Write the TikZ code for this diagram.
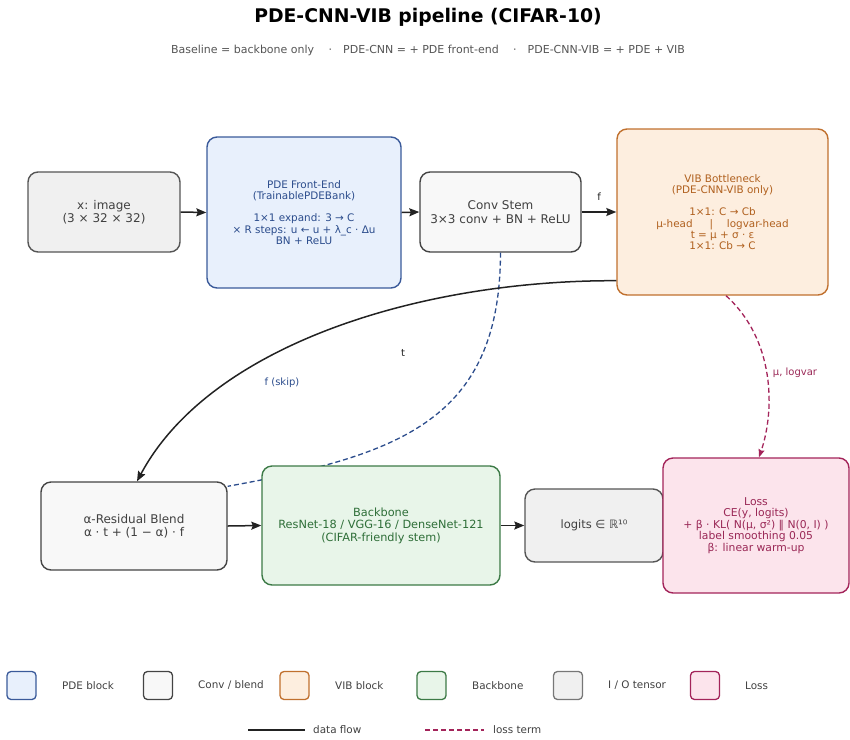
\documentclass[tikz,border=0pt]{standalone}
\usepackage{fontspec}
\setmainfont{DejaVu Sans}
\usetikzlibrary{arrows.meta,calc}
\definecolor{ioF}{HTML}{F0F0F0}
\definecolor{ioD}{HTML}{555555}
\definecolor{cvF}{HTML}{F8F8F8}
\definecolor{cvD}{HTML}{444444}
\definecolor{grT}{HTML}{404040}
\definecolor{pdeF}{HTML}{E8F0FC}
\definecolor{pdeD}{HTML}{3A5A9A}
\definecolor{pdeT}{HTML}{2B4C8C}
\definecolor{vibF}{HTML}{FDEEDF}
\definecolor{vibD}{HTML}{C0702E}
\definecolor{vibT}{HTML}{B0601E}
\definecolor{bbF}{HTML}{E8F5E9}
\definecolor{bbD}{HTML}{3C7A46}
\definecolor{bbT}{HTML}{2E6E38}
\definecolor{lsF}{HTML}{FCE4EC}
\definecolor{lsD}{HTML}{A3245A}
\definecolor{lsT}{HTML}{9A2856}
\definecolor{arr}{HTML}{222222}
\definecolor{subT}{HTML}{555555}
\begin{document}
\begin{tikzpicture}[x=1pt,y=-1pt,
  blk/.style={draw, rounded corners=10pt, line width=1.4pt, align=center, inner sep=0pt},
  big/.style={font=\fontsize{12}{13.5}\selectfont},
  small/.style={font=\fontsize{10.4}{11.3}\selectfont},
  iobox/.style={blk, big, fill=ioF, draw=ioD, text=grT},
  cvbox/.style={blk, big, fill=cvF, draw=cvD, text=grT},
  pdebox/.style={blk, small, fill=pdeF, draw=pdeD, text=pdeT},
  vibbox/.style={blk, small, fill=vibF, draw=vibD, text=vibT},
  bbbox/.style={blk, font=\fontsize{11.3}{12.6}\selectfont, fill=bbF, draw=bbD, text=bbT},
  lsbox/.style={blk, font=\fontsize{10.8}{11.5}\selectfont, fill=lsF, draw=lsD, text=lsT},
  flow/.style={draw=arr, line width=1.5pt, -{Stealth[length=10pt,width=8pt,inset=1.5pt]}},
  tdash/.style={draw=pdeT, line width=1.3pt, dash pattern=on 5pt off 3pt},
  lossdash/.style={draw=lsD, line width=1.3pt, dash pattern=on 5pt off 3pt, -{Stealth[length=8pt,width=6pt,inset=1pt]}},
  lgsq/.style={draw, rounded corners=4pt, line width=1.3pt, minimum width=29pt, minimum height=28pt, inner sep=0pt},
  lgtx/.style={anchor=west, font=\fontsize{10.4}{12}\selectfont, text=grT, inner sep=0pt},
  lbl/.style={font=\fontsize{10}{12}\selectfont, inner sep=0pt}
]
\useasboundingbox (0,0) rectangle (850,739);

% title
\node[font=\fontsize{18.8}{22}\selectfont\bfseries] (title) at (428,17) {PDE-CNN-VIB pipeline (CIFAR-10)};
\node[font=\fontsize{11}{13}\selectfont, text=subT] (sub) at (428,50) {Baseline = backbone only \quad·\quad PDE-CNN = + PDE front-end \quad·\quad PDE-CNN-VIB = + PDE + VIB};

% boxes, top row
\node[iobox, minimum width=152pt, minimum height=80pt] (img) at (104,212) {x: image\\(3 × 32 × 32)};
\node[pdebox, minimum width=194pt, minimum height=151pt] (pde) at (304,212.5) {PDE Front-End\\(TrainablePDEBank)\\[11pt]1×1 expand: 3 → C\\× R steps: u ← u + λ\_c · Δu\\BN + ReLU};
\node[cvbox, minimum width=161pt, minimum height=80pt] (conv) at (500.5,212) {Conv Stem\\3×3 conv + BN + ReLU};
\node[vibbox, minimum width=211pt, minimum height=166pt] (vib) at (722.5,212) {VIB Bottleneck\\(PDE-CNN-VIB only)\\[11pt]1×1: C → Cb\\μ-head \quad\ |\quad\  logvar-head\\t = μ + σ · ε\\1×1: Cb → C};

% bottom row (blend first, dashed t path, then backbone on top)
\node[cvbox, minimum width=186pt, minimum height=88pt] (blend) at (134,526) {α-Residual Blend\\α · t + (1 − α) · f};

\coordinate (tend) at ($(blend.north east)+(0,5)$);
\draw[tdash] (conv.south) .. controls (500,420) and (400,455) .. (tend);

\node[bbbox, minimum width=238pt, minimum height=119pt] (bb) at (381,525.5) {Backbone\\ResNet-18 / VGG-16 / DenseNet-121\\(CIFAR-friendly stem)};
\node[iobox, font=\fontsize{11.5}{13}\selectfont, minimum width=138pt, minimum height=73pt] (logits) at (594,525.5) {logits ∈ ℝ¹⁰};
\node[lsbox, minimum width=186pt, minimum height=135pt] (loss) at (756,525.5) {Loss\\CE(y, logits)\\+ β · KL( N(μ, σ²) ‖ N(0, I) )\\label smoothing 0.05\\β: linear warm-up};

% straight flows
\draw[flow] (img.east) -- (pde.west);
\draw[flow] (pde.east) -- (conv.west);
\draw[flow] (conv.east) -- (vib.west);
\draw[flow] (blend.east) -- (bb.west);
\draw[flow] (bb.east) -- (logits.west);

% skip curve
\coordinate (skipA) at ($(vib.south west)+(0,-15)$);
\coordinate (skipB) at ($(blend.north)+(3,0)$);
\draw[flow] (skipA) .. controls (420,280) and (210,345) .. (skipB);

% loss term
\coordinate (muA) at ($(vib.south)+(3.5,0)$);
\coordinate (muB) at ($(loss.north)+(3,0)$);
\draw[lossdash] (muA) .. controls (775,340) and (775,410) .. (muB);

% labels
\node[lbl, text=arr] (lf) at (599,197) {f};
\node[lbl, text=arr] (lt) at (403,353) {t};
\node[lbl, text=pdeT] (lskip) at (282,383) {f (skip)};
\node[lbl, text=lsT] (lmu) at (795,373) {μ, logvar};

% legend
\node[lgsq, fill=pdeF, draw=pdeD] (lg1) at (21.5,685.5) {};
\node[lgtx] (lt1) at (62,685.5) {PDE block};
\node[lgsq, fill=cvF, draw=cvD] (lg2) at (158,685.5) {};
\node[lgtx] (lt2) at (198,685.5) {Conv / blend};
\node[lgsq, fill=vibF, draw=vibD] (lg3) at (294.5,685.5) {};
\node[lgtx] (lt3) at (335,685.5) {VIB block};
\node[lgsq, fill=bbF, draw=bbD] (lg4) at (431.5,685.5) {};
\node[lgtx] (lt4) at (472,685.5) {Backbone};
\node[lgsq, fill=ioF, draw=ioD!80] (lg5) at (568,685.5) {};
\node[lgtx] (lt5) at (608,685.5) {I / O tensor};
\node[lgsq, fill=lsF, draw=lsD] (lg6) at (705,685.5) {};
\node[lgtx] (lt6) at (745,685.5) {Loss};

\coordinate (df1) at (248,730);
\coordinate (df2) at (305,730);
\draw[draw=arr, line width=1.5pt] (df1) -- (df2);
\node[lgtx] (ldf) at (313,730) {data flow};
\coordinate (lt1a) at (425,730);
\coordinate (lt1b) at (484,730);
\draw[draw=lsD, line width=1.5pt, dash pattern=on 5pt off 3pt] (lt1a) -- (lt1b);
\node[lgtx] (llt) at (493,730) {loss term};
\end{tikzpicture}
\end{document}
